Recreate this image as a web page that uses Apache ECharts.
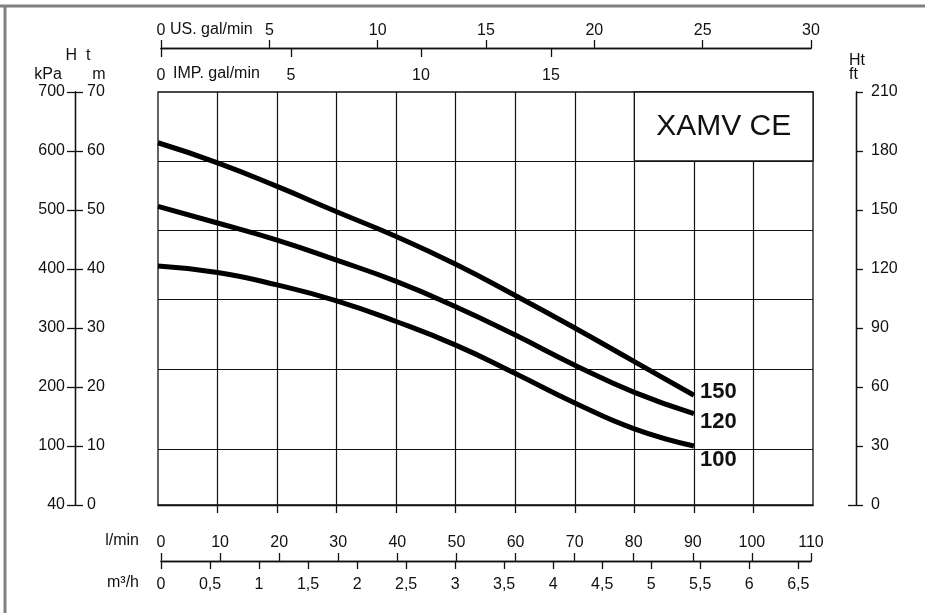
<!DOCTYPE html>
<html><head><meta charset="utf-8">
<script src="https://cdn.jsdelivr.net/npm/echarts@6/dist/echarts.min.js"></script>
<style>html,body{margin:0;padding:0;background:#fff}#c{width:925px;height:613px}</style>
</head><body><div id="c"></div>
<script>
// ---- data ----
const flowLpm = [0, 10, 20, 30, 40, 50, 60, 70, 80, 90];
const head150 = [61.4, 58.0, 54.0, 49.7, 45.5, 40.8, 35.5, 30.0, 24.3, 18.6];
const head120 = [50.6, 47.8, 44.9, 41.5, 37.9, 33.6, 28.8, 23.7, 19.1, 15.5];
const head100 = [40.5, 39.4, 37.3, 34.6, 31.1, 27.1, 22.3, 17.3, 12.9, 10.0];
const curveNames = ['150', '120', '100'];
const gridLevelsM = [9.44, 23.05, 34.86, 46.61, 58.31];
const headTicksM = [0, 10, 20, 30, 40, 50, 60, 70];
const headTicksKPa = ['40', '100', '200', '300', '400', '500', '600', '700'];
const headTicksFt = [0, 30, 60, 90, 120, 150, 180, 210];
const flowTicksLpm = [0, 10, 20, 30, 40, 50, 60, 70, 80, 90, 100, 110];
const flowTicksM3h = [0, 0.5, 1, 1.5, 2, 2.5, 3, 3.5, 4, 4.5, 5, 5.5, 6, 6.5];
const flowTicksUS = [0, 5, 10, 15, 20, 25, 30];
const flowTicksIMP = [0, 5, 10, 15, 20];
const titleText = 'XAMV CE';

// ---- chart ----
const FONT = '"Liberation Sans", Arial, sans-serif';
const INK = '#111';
const lab = { color: INK, fontSize: 16, fontFamily: FONT };
const axLine = { show: true, onZero: false, lineStyle: { color: INK, width: 1.3 } };
const tickStyle = { color: INK, width: 1.3 };
const innerFlowTicks = flowTicksLpm.slice(1, -1);

const chart = echarts.init(document.getElementById('c'), null, { renderer: 'canvas' });

const curves = [head150, head120, head100];
const endOffsets = [[0, -3], [0, 8], [0, 14]];

const option = {
  animation: false,
  backgroundColor: '#fff',
  grid: [
    { left: 158, right: 112, top: 92, bottom: 108, show: true, borderColor: INK, borderWidth: 1.3, backgroundColor: 'transparent' },
    { left: 161, right: 114, top: 48, bottom: 52, show: false }
  ],
  xAxis: [
    { type: 'value', gridIndex: 0, position: 'bottom', min: 0, max: 110, interval: 10,
      axisLine: axLine,
      axisTick: { show: true, inside: false, length: 8, lineStyle: { color: INK, width: 1.3 }, customValues: innerFlowTicks },
      axisLabel: { show: true, color: 'rgba(0,0,0,0)', fontSize: 1, customValues: innerFlowTicks },
      splitLine: { show: true, lineStyle: { color: INK, width: 1.2 } } },
    { type: 'value', gridIndex: 1, position: 'top', min: 0, max: 30, interval: 5,
      axisLine: axLine,
      axisTick: { show: true, length: 8, lineStyle: tickStyle, customValues: flowTicksUS },
      axisLabel: Object.assign({ margin: 9, customValues: flowTicksUS }, lab),
      splitLine: { show: false } },
    { type: 'value', gridIndex: 1, position: 'top', min: 0, max: 25, interval: 5,
      axisLine: axLine,
      axisTick: { show: true, inside: true, length: 9, lineStyle: tickStyle, customValues: flowTicksIMP },
      axisLabel: Object.assign({ inside: true, margin: 20, customValues: flowTicksIMP, showMaxLabel: false }, lab),
      splitLine: { show: false } },
    { type: 'value', gridIndex: 1, position: 'bottom', min: 0, max: 110, interval: 10,
      axisLine: axLine,
      axisTick: { show: true, inside: true, length: 8, lineStyle: tickStyle, customValues: flowTicksLpm },
      axisLabel: Object.assign({ inside: true, margin: 10, customValues: flowTicksLpm }, lab),
      splitLine: { show: false } },
    { type: 'value', gridIndex: 1, position: 'bottom', min: 0, max: 6.63, interval: 0.5,
      axisLine: axLine,
      axisTick: { show: true, length: 8, lineStyle: tickStyle, customValues: flowTicksM3h },
      axisLabel: Object.assign({ margin: 16, customValues: flowTicksM3h,
        formatter: v => (flowTicksM3h.indexOf(+v.toFixed(2)) >= 0 ? String(+v.toFixed(2)).replace('.', ',') : '') }, lab),
      splitLine: { show: false } }
  ],
  yAxis: [
    { type: 'value', gridIndex: 0, position: 'left', offset: 83, min: 0, max: 70, interval: 10,
      axisLine: axLine,
      axisTick: { show: true, inside: true, length: 8, lineStyle: tickStyle },
      axisLabel: Object.assign({ inside: true, margin: 12, formatter: v => String(v) }, lab),
      splitLine: { show: false } },
    { type: 'value', gridIndex: 0, position: 'left', offset: 83, min: 0, max: 70, interval: 10,
      axisLine: axLine,
      axisTick: { show: true, length: 8, lineStyle: tickStyle },
      axisLabel: Object.assign({ margin: 10, formatter: v => { const i = headTicksM.indexOf(v); return i >= 0 ? headTicksKPa[i] : ''; } }, lab),
      splitLine: { show: false } },
    { type: 'value', gridIndex: 0, position: 'right', offset: 43, min: 0, max: 210, interval: 30,
      axisLine: axLine,
      axisTick: { show: true, length: 7, lineStyle: tickStyle, customValues: headTicksFt },
      axisLabel: Object.assign({ margin: 15, customValues: headTicksFt }, lab),
      splitLine: { show: false } },
    { type: 'value', gridIndex: 0, position: 'right', offset: 43, min: 0, max: 210, interval: 30,
      axisLine: axLine,
      axisTick: { show: true, inside: true, length: 8, lineStyle: tickStyle, customValues: [headTicksFt[0]] },
      axisLabel: { show: false },
      splitLine: { show: false } },
    { type: 'value', gridIndex: 1, show: false, min: 0, max: 1 }
  ],
  series: [
    { name: 'grid', type: 'line', xAxisIndex: 0, yAxisIndex: 0, data: [], silent: true, z: 1,
      markLine: { silent: true, z: 1, symbol: ['none', 'none'], label: { show: false },
        lineStyle: { color: INK, width: 1.2, type: 'solid' },
        data: gridLevelsM.map(v => ({ yAxis: v })) },
      markArea: { silent: true, z: 1,
        itemStyle: { color: '#fff', borderColor: INK, borderWidth: 1.3 },
        label: { show: true, position: 'inside', formatter: titleText, fontSize: 30, color: INK, fontFamily: FONT },
        data: [[{ xAxis: flowTicksLpm[8], yAxis: gridLevelsM[4] }, { xAxis: flowTicksLpm[11], yAxis: headTicksM[7] }]] }
    }
  ].concat(curves.map((arr, k) => ({
    name: curveNames[k], type: 'line', xAxisIndex: 0, yAxisIndex: 0, z: 3,
    smooth: 0.5, symbol: 'none', showSymbol: false,
    lineStyle: { color: '#000', width: 5, cap: 'butt' },
    data: flowLpm.map((x, i) => [x, arr[i]]),
    endLabel: { show: true, formatter: '{a}', fontSize: 22, fontWeight: 'bold', color: INK, fontFamily: FONT,
      distance: 6, offset: endOffsets[k] }
  }))),
  graphic: [
    { type: 'line', shape: { x1: 0, y1: 6, x2: 925, y2: 6 }, style: { stroke: '#808080', lineWidth: 3 }, silent: true },
    { type: 'line', shape: { x1: 5, y1: 6, x2: 5, y2: 613 }, style: { stroke: '#808080', lineWidth: 3 }, silent: true },
    { type: 'text', x: 78, y: 56, style: { text: 'H  t', fill: INK, font: '16px ' + FONT, align: 'center', verticalAlign: 'middle' } },
    { type: 'text', x: 48, y: 75, style: { text: 'kPa', fill: INK, font: '16px ' + FONT, align: 'center', verticalAlign: 'middle' } },
    { type: 'text', x: 99, y: 75, style: { text: 'm', fill: INK, font: '16px ' + FONT, align: 'center', verticalAlign: 'middle' } },
    { type: 'text', x: 849, y: 61, style: { text: 'Ht', fill: INK, font: '16px ' + FONT, align: 'left', verticalAlign: 'middle' } },
    { type: 'text', x: 849, y: 75, style: { text: 'ft', fill: INK, font: '16px ' + FONT, align: 'left', verticalAlign: 'middle' } },
    { type: 'text', x: 170, y: 30, style: { text: 'US. gal/min', fill: INK, font: '16px ' + FONT, align: 'left', verticalAlign: 'middle' } },
    { type: 'text', x: 173, y: 74, style: { text: 'IMP. gal/min', fill: INK, font: '16px ' + FONT, align: 'left', verticalAlign: 'middle' } },
    { type: 'text', x: 139, y: 541, style: { text: 'l/min', fill: INK, font: '16px ' + FONT, align: 'right', verticalAlign: 'middle' } },
    { type: 'text', x: 139, y: 583, style: { text: 'm³/h', fill: INK, font: '16px ' + FONT, align: 'right', verticalAlign: 'middle' } }
  ]
};
chart.setOption(option);
</script>
</body></html>
